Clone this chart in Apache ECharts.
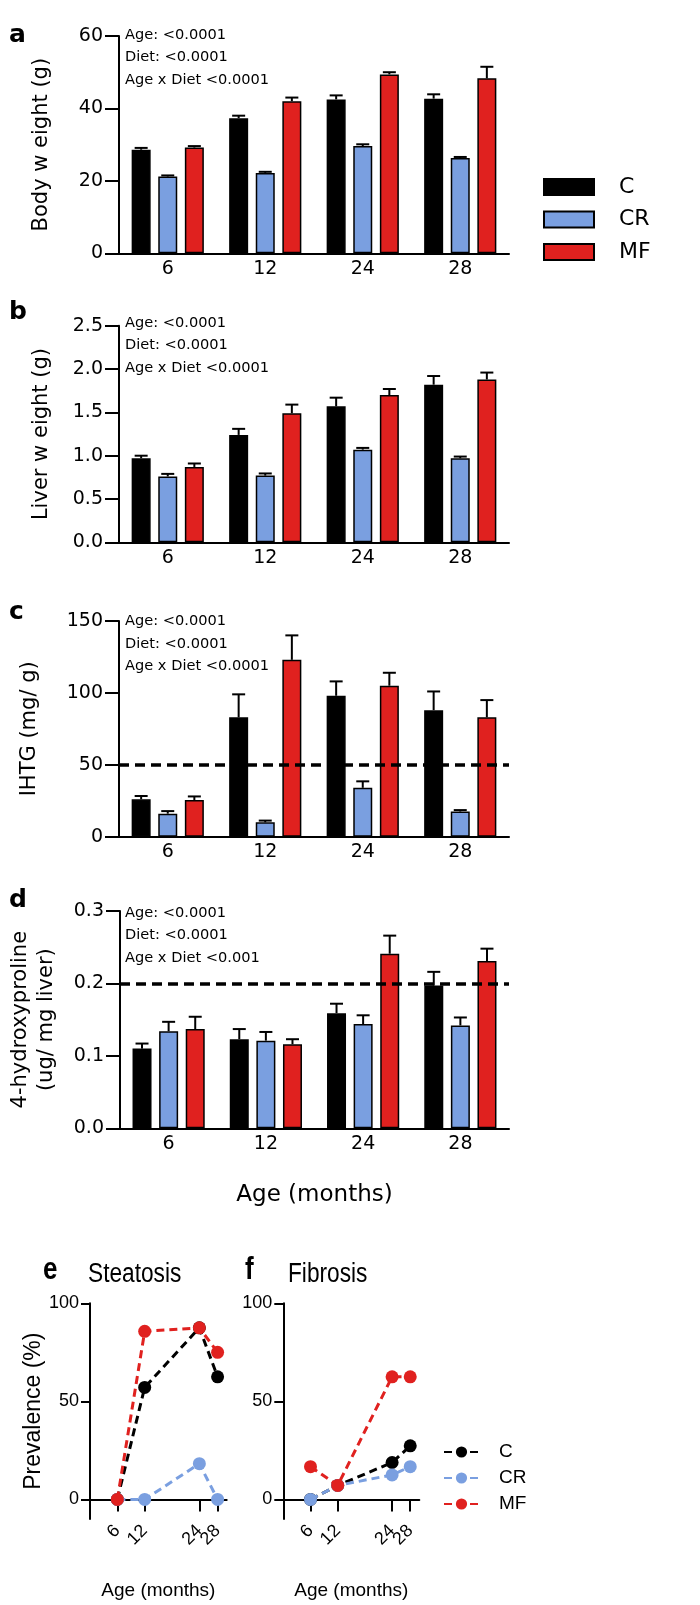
<!DOCTYPE html>
<html><head><meta charset="utf-8">
<script src="https://cdn.jsdelivr.net/npm/echarts@6/dist/echarts.min.js"></script>
<style>
html,body{margin:0;padding:0;background:#fff;width:700px;height:1605px;overflow:hidden}
#top{position:absolute;left:0;top:0;width:700px;height:1215px}
#bot{position:absolute;left:0;top:1215px;width:700px;height:390px}
</style>
</head><body><div id="top"></div><div id="bot"></div>
<script>
// ---------- DATA ----------
const ages = ['6', '12', '24', '28'];
const groups = ['C', 'CR', 'MF'];

// a: Body weight (g)
const bodyC = [28.6, 37.3, 42.5, 42.7];
const bodyCErr = [0.5, 0.7, 1.1, 1.2];
const bodyCR = [21.2, 22.2, 29.6, 26.3];
const bodyCRErr = [0.3, 0.3, 0.5, 0.3];
const bodyMF = [29.2, 42.0, 49.4, 48.3];
const bodyMFErr = [0.4, 1.0, 0.6, 3.2];

// b: Liver weight (g)
const liverC = [0.97, 1.24, 1.57, 1.82];
const liverCErr = [0.03, 0.07, 0.10, 0.10];
const liverCR = [0.76, 0.77, 1.07, 0.97];
const liverCRErr = [0.03, 0.025, 0.02, 0.02];
const liverMF = [0.87, 1.49, 1.70, 1.88];
const liverMFErr = [0.04, 0.10, 0.07, 0.08];

// c: IHTG (mg/g)
const ihtgC = [26, 83, 98, 88];
const ihtgCErr = [2.3, 16, 10, 13];
const ihtgCR = [16, 10, 34, 17.5];
const ihtgCRErr = [1.8, 1.2, 4.5, 1.0];
const ihtgMF = [25.5, 123, 105, 83];
const ihtgMFErr = [2.5, 17, 9, 12];

// d: 4-hydroxyproline (ug/mg liver)
const hypC = [0.110, 0.123, 0.159, 0.197];
const hypCErr = [0.007, 0.014, 0.013, 0.019];
const hypCR = [0.134, 0.121, 0.144, 0.142];
const hypCRErr = [0.013, 0.012, 0.012, 0.011];
const hypMF = [0.137, 0.116, 0.241, 0.231];
const hypMFErr = [0.017, 0.007, 0.025, 0.017];

// reference lines
const ihtgThreshold = 50;
const hypThreshold = 0.2;

// stats text
const statsA = ['Age: <0.0001', 'Diet: <0.0001', 'Age x Diet <0.0001'];
const statsB = ['Age: <0.0001', 'Diet: <0.0001', 'Age x Diet <0.0001'];
const statsC = ['Age: <0.0001', 'Diet: <0.0001', 'Age x Diet <0.0001'];
const statsD = ['Age: <0.0001', 'Diet: <0.0001', 'Age x Diet <0.001'];

// e/f: prevalence (%)
const prevAges = [6, 12, 24, 28];
const prevLabelsA = [6, 24];   // drawn on main axis
const prevLabelsB = [12, 28];  // drawn on overlaid axis (avoids auto-hiding)
const steatC = [0, 57.1, 87.5, 62.5];
const steatCR = [0, 0, 18.2, 0];
const steatMF = [0, 85.7, 87.5, 75];
const fibC = [0, 7.1, 18.8, 27.3];
const fibCR = [0, 7.1, 12.5, 16.7];
const fibMF = [16.7, 7.1, 62.5, 62.5];
const prevTicks = [0, 50, 100];

// ---------- STYLE ----------
const colors = { C: '#000000', CR: '#7a9fe0', MF: '#e0211f' };
const FONT = 'DejaVu Sans';
const LFONT = 'Liberation Sans';
const BAR_W = 19, BAR_GAP = 0.4;

const panels = [
  { top: 36, height: 217.3, max: 60, interval: 20, dec: 0, name: 'Body w eight (g)', nameGap: 64,
    vals: [bodyC, bodyCR, bodyMF], errs: [bodyCErr, bodyCRErr, bodyMFErr], ref: null, stats: statsA, statsY: 35, letter: 'a', letterY: 23 },
  { top: 325.8, height: 216.5, max: 2.5, interval: 0.5, dec: 1, name: 'Liver w eight (g)', nameGap: 64,
    vals: [liverC, liverCR, liverMF], errs: [liverCErr, liverCRErr, liverMFErr], ref: null, stats: statsB, statsY: 323, letter: 'b', letterY: 300 },
  { top: 621, height: 215.7, max: 150, interval: 50, dec: 0, name: 'IHTG (mg/ g)', nameGap: 76,
    vals: [ihtgC, ihtgCR, ihtgMF], errs: [ihtgCErr, ihtgCRErr, ihtgMFErr], ref: ihtgThreshold, stats: statsC, statsY: 621.5, letter: 'c', letterY: 600 },
  { top: 911, height: 217.3, max: 0.3, interval: 0.1, dec: 1, name: '4-hydroxyproline\n(ug/ mg liver)', nameGap: 60,
    vals: [hypC, hypCR, hypMF], errs: [hypCErr, hypCRErr, hypMFErr], ref: hypThreshold, stats: statsD, statsY: 913, letter: 'd', letterY: 888, xname: 'Age (months)' }
];

const grids = [], xAxes = [], yAxes = [], series = [], graphics = [];
panels.forEach((p, i) => {
  grids.push({ left: 119, width: 390, top: p.top, height: p.height });
  xAxes.push({
    type: 'category', gridIndex: i, data: ages,
    axisLine: { lineStyle: { color: '#000', width: 2 } },
    axisTick: { alignWithLabel: true, length: 10, lineStyle: { color: '#000', width: 2 } },
    axisLabel: { color: '#000', fontFamily: FONT, fontSize: 19, margin: 6 },
    name: p.xname || '', nameLocation: 'middle', nameGap: 55,
    nameTextStyle: { color: '#000', fontFamily: FONT, fontSize: 23 }
  });
  yAxes.push({
    type: 'value', gridIndex: i, min: 0, max: p.max, interval: p.interval,
    axisLine: { show: true, lineStyle: { color: '#000', width: 2 } },
    axisTick: { show: true, length: 14, lineStyle: { color: '#000', width: 2 } },
    splitLine: { show: false },
    axisLabel: { color: '#000', fontFamily: FONT, fontSize: 19, margin: 16,
      formatter: v => v.toFixed(p.dec) },
    name: p.name, nameLocation: 'middle', nameGap: p.nameGap, nameRotate: 90,
    nameTextStyle: { color: '#000', fontFamily: FONT, fontSize: 21, lineHeight: 26 }
  });
  groups.forEach((g, gi) => {
    const s = {
      name: g, type: 'bar', xAxisIndex: i, yAxisIndex: i, data: p.vals[gi],
      barWidth: BAR_W, barGap: (BAR_GAP * 100) + '%',
      itemStyle: { color: colors[g], borderColor: '#000', borderWidth: 1.5 },
      emphasis: { disabled: true }, animation: false, z: 2
    };
    if (gi === 0 && p.ref !== null) {
      s.markLine = {
        silent: true, symbol: ['none', 'none'], label: { show: false }, animation: false,
        lineStyle: { type: [10, 6], width: 3.5, color: '#000' },
        data: [{ yAxis: p.ref }]
      };
    }
    series.push(s);
  });
  const errData = [];
  groups.forEach((g, gi) => {
    p.vals[gi].forEach((v, ci) => errData.push([ci, v, v + p.errs[gi][ci], gi]));
  });
  series.push({
    type: 'custom', xAxisIndex: i, yAxisIndex: i, data: errData, z: 3, animation: false,
    encode: { x: 0, y: [1, 2] }, silent: true,
    renderItem: (params, api) => {
      const ci = api.value(0), m = api.value(1), u = api.value(2), gi = api.value(3);
      const off = (gi - 1) * BAR_W * (1 + BAR_GAP);
      const p0 = api.coord([ci, m]), p1 = api.coord([ci, u]);
      const x = p0[0] + off;
      return { type: 'group', children: [
        { type: 'line', shape: { x1: x, y1: p0[1], x2: x, y2: p1[1] }, style: { stroke: '#000', lineWidth: 2 } },
        { type: 'line', shape: { x1: x - 6.5, y1: p1[1], x2: x + 6.5, y2: p1[1] }, style: { stroke: '#000', lineWidth: 2 } }
      ] };
    }
  });
  p.stats.forEach((t, k) => {
    graphics.push({ type: 'text', silent: true,
      style: { text: t, x: 125, y: p.statsY + k * 22.5, font: '14.6px "DejaVu Sans"', fill: '#000', textVerticalAlign: 'middle' } });
  });
  graphics.push({ type: 'text', silent: true,
    style: { text: p.letter, x: 9, y: p.letterY, font: 'bold 25px "DejaVu Sans"', fill: '#000', textVerticalAlign: 'alphabetic' } });
});

const topChart = echarts.init(document.getElementById('top'), null, { renderer: 'canvas' });
topChart.setOption({
  animation: false,
  grid: grids, xAxis: xAxes, yAxis: yAxes, series: series,
  legend: {
    data: groups, orient: 'vertical', left: 538, top: 171, itemWidth: 50, itemHeight: 16, itemGap: 10.5,
    icon: 'rect', selectedMode: false,
    textStyle: { color: '#000', fontFamily: FONT, fontSize: 22, padding: [0, 0, 0, 20] }
  },
  graphic: { elements: graphics }
});

// ---------- bottom: prevalence ----------
const prevPanels = [
  { left: 90, width: 136.7, vals: [steatC, steatCR, steatMF], title: 'Steatosis', titleX: 88, letter: 'e', letterX: 43 },
  { left: 283.3, width: 136, vals: [fibC, fibCR, fibMF], title: 'Fibrosis', titleX: 288, letter: 'f', letterX: 245 }
];
const bGrids = [], bX = [], bY = [], bSeries = [], bGraphics = [];
const tickLabelStyle = { rotate: 45, hideOverlap: false, showMinLabel: true, showMaxLabel: true,
  color: '#000', fontFamily: LFONT, fontSize: 18, margin: 9 };
prevPanels.forEach((p, i) => {
  bGrids.push({ left: p.left, width: p.width, top: 88.3, height: 216.7 });
  bX.push({
    type: 'value', gridIndex: i, min: 0, max: 30, position: 'bottom',
    axisLine: { lineStyle: { color: '#000', width: 2 } },
    axisTick: { show: true, length: 12, customValues: prevAges, lineStyle: { color: '#000', width: 2 } },
    splitLine: { show: false },
    axisLabel: Object.assign({ customValues: prevLabelsA }, tickLabelStyle),
    name: 'Age (months)', nameLocation: 'middle', nameGap: 62,
    nameTextStyle: { color: '#000', fontFamily: LFONT, fontSize: 19 }
  });
  bX.push({
    type: 'value', gridIndex: i, min: 0, max: 30, position: 'bottom', offset: 0,
    axisLine: { show: false }, axisTick: { show: false }, splitLine: { show: false },
    axisLabel: Object.assign({ customValues: prevLabelsB }, tickLabelStyle)
  });
  bY.push({
    type: 'value', gridIndex: i, min: -10, max: 100,
    axisLine: { show: true, lineStyle: { color: '#000', width: 2 } },
    axisTick: { show: true, length: 9, customValues: prevTicks, lineStyle: { color: '#000', width: 2 } },
    splitLine: { show: false },
    axisLabel: { customValues: prevTicks, color: '#000', fontFamily: LFONT, fontSize: 18, margin: 11 },
    name: i === 0 ? 'Prevalence (%)' : '', nameLocation: 'middle', nameGap: 45, nameRotate: 90,
    nameTextStyle: { color: '#000', fontFamily: LFONT, fontSize: 23 }
  });
  groups.forEach((g, gi) => {
    bSeries.push({
      name: g, type: 'line', xAxisIndex: 2 * i, yAxisIndex: i,
      data: prevAges.map((a, k) => [a, p.vals[gi][k]]),
      symbol: 'circle', symbolSize: 13, animation: false,
      lineStyle: { color: colors[g], width: 3, type: [8, 5] },
      itemStyle: { color: colors[g] }, emphasis: { disabled: true }, z: 2 + gi
    });
  });
  bGraphics.push({ type: 'text', silent: true, x: p.titleX, y: 46, scaleX: 0.84,
    style: { text: p.title, x: 0, y: 0, font: '27px "Liberation Sans"', fill: '#000', textVerticalAlign: 'alphabetic' } });
  bGraphics.push({ type: 'text', silent: true, x: p.letterX, y: 40, scaleX: 0.84,
    style: { text: p.letter, x: 0, y: 0, font: 'bold 31px "Liberation Sans"', fill: '#000', textVerticalAlign: 'alphabetic' } });
});

const botChart = echarts.init(document.getElementById('bot'), null, { renderer: 'canvas' });
botChart.setOption({
  animation: false,
  grid: bGrids, xAxis: bX, yAxis: bY, series: bSeries,
  legend: {
    data: groups, orient: 'vertical', left: 438, top: 222, itemWidth: 35, itemHeight: 14, itemGap: 6,
    selectedMode: false,
    textStyle: { color: '#000', fontFamily: LFONT, fontSize: 19, lineHeight: 20, padding: [0, 0, 0, 15] }
  },
  graphic: { elements: bGraphics }
});
</script>
</body></html>
